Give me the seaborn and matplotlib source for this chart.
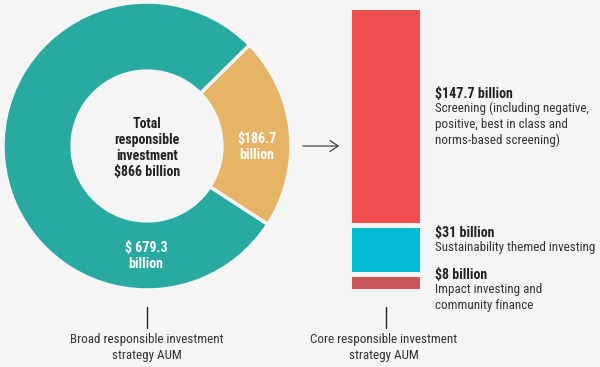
import matplotlib
matplotlib.use("Agg")
import matplotlib.pyplot as plt
import seaborn as sns
from matplotlib import font_manager as fm
from matplotlib.patches import FancyArrowPatch

# ---- data ----
donut_labels = ["$186.7\nbillion", "$ 679.3\nbillion"]
donut_values = [186.7, 679.3]
donut_colors = ["#e5b466", "#29aaa1"]
center_text = "Total\nresponsible\ninvestment\n$866 billion"

core_values = [8, 31, 147.7]  # bottom -> top
core_colors = ["#c8575d", "#00bbd2", "#ef4f4f"]
core_titles = ["$8 billion", "$31 billion", "$147.7 billion"]
core_descs = ["Impact investing and\ncommunity finance",
              "Sustainability themed investing",
              "Screening (including negative,\npositive, best in class and\nnorms-based screening)"]
left_caption = "Broad responsible investment\nstrategy AUM"
right_caption = "Core responsible investment\nstrategy AUM"

BG = "#f5f5f5"
sns.set_theme(style="white")

available = {f.name for f in fm.fontManager.ttflist}
FONT, STRETCH, FS = None, "normal", 9.4
for cand in ["Roboto Condensed", "Liberation Sans Narrow", "Archivo Narrow", "PT Sans Narrow"]:
    if cand in available:
        FONT = cand
        break
if FONT is None:
    FONT, STRETCH, FS = "DejaVu Sans", "condensed", 7.8
plt.rcParams["font.family"] = [FONT, "DejaVu Sans"]
plt.rcParams["font.stretch"] = STRETCH
FB = FS + 0.6

W, H = 600, 367
fig = plt.figure(figsize=(W / 100, H / 100), dpi=100)
fig.patch.set_facecolor(BG)

def fx(px):
    return px / W

def fy(py):
    return 1 - py / H

# ---- donut ----
cx, cy, R = 147, 146, 144
axd = fig.add_axes([fx(cx - R), fy(cy + R), 2 * R / W, 2 * R / H])
axd.set_facecolor(BG)
axd.pie(donut_values, colors=donut_colors, startangle=-33, counterclock=True,
        radius=1.0, wedgeprops=dict(width=0.48, edgecolor=BG, linewidth=2.5))
axd.set_xlim(-1, 1)
axd.set_ylim(-1, 1)
axd.set_aspect("equal")
axd.axis("off")

txt_kw = dict(ha="center", va="center", fontweight="bold", linespacing=1.18, fontsize=FB)
fig.text(fx(cx), fy(148), center_text, color="#222222", **txt_kw)
fig.text(fx(257), fy(147), donut_labels[0], color="white", **txt_kw)
fig.text(fx(146), fy(256), donut_labels[1], color="white", **txt_kw)

# connectors, arrow, captions
line_ax = fig.add_axes([0, 0, 1, 1], facecolor="none")
line_ax.set_xlim(0, W)
line_ax.set_ylim(H, 0)
line_ax.axis("off")
line_ax.plot([147, 147], [307, 328], color="#222222", lw=1)
line_ax.plot([386, 386], [307, 328], color="#222222", lw=1)
line_ax.add_patch(FancyArrowPatch((300, 146), (342, 146), arrowstyle="->,head_length=6,head_width=4",
                                  color="#333333", lw=0.8, mutation_scale=1))
fig.text(fx(147), fy(348), left_caption, ha="center", va="center", fontsize=FS,
         color="#333333", linespacing=1.3)
fig.text(fx(384), fy(348), right_caption, ha="center", va="center", fontsize=FS,
         color="#333333", linespacing=1.3)

# ---- stacked core bar ----
gap = 3.5
bar_top, bar_bot = 10, 289
axb = fig.add_axes([fx(352), fy(bar_bot), 68 / W, (bar_bot - bar_top) / H])
axb.set_facecolor("none")
bottoms = []
b = 0
for v in core_values:
    bottoms.append(b)
    b += v + gap
axb.bar([0] * len(core_values), core_values, bottom=bottoms, width=1.0,
        color=core_colors, linewidth=0)
axb.set_xlim(-0.5, 0.5)
axb.set_ylim(0, b - gap)
axb.axis("off")

label_pos = [94, 233, 275][::-1]
for t, d, y in zip(core_titles, core_descs, label_pos):
    fig.text(fx(435), fy(y), t, ha="left", va="center", fontsize=FB,
             fontweight="bold", color="#222222")
    fig.text(fx(435), fy(y + 8), d, ha="left", va="top", fontsize=FS,
             color="#333333", linespacing=1.25)

fig.savefig("out.png", dpi=100, facecolor=BG)
